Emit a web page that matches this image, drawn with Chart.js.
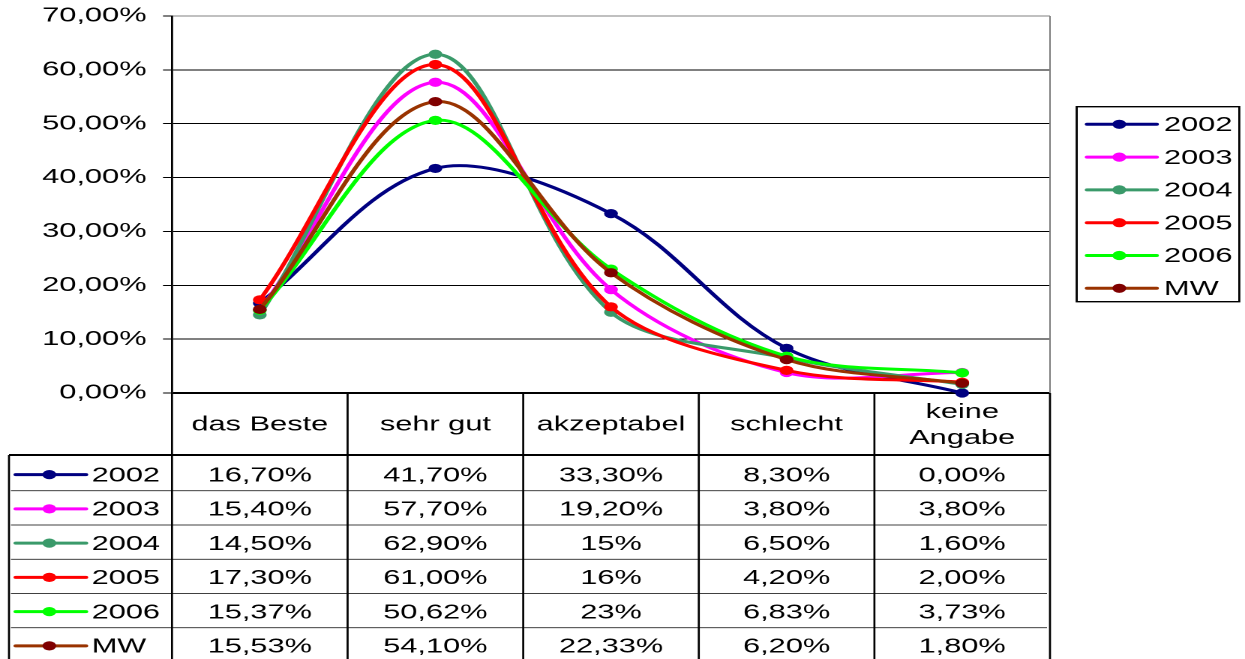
<!DOCTYPE html>
<html>
<head>
<meta charset="utf-8">
<script src="https://cdn.jsdelivr.net/npm/chart.js@4.4.1/dist/chart.umd.min.js"></script>
<style>
  html, body { margin: 0; padding: 0; background: #fff; overflow: hidden; }
  #wrap { width: 1245px; height: 659px; position: relative; overflow: hidden; }
  /* the chart is laid out on a narrower canvas and widened horizontally */
  #c { position: absolute; left: 0; top: 0; transform: scaleX(1.5); transform-origin: 0 0; }
</style>
</head>
<body>
<div id="wrap"><canvas id="c" width="830" height="659"></canvas></div>
<script>
// ---- data ----
const categories = ['das Beste', 'sehr gut', 'akzeptabel', 'schlecht', ['keine', 'Angabe']];
const seriesNames = ['2002', '2003', '2004', '2005', '2006', 'MW'];

const values2002 = [16.70, 41.70, 33.30, 8.30, 0.00];
const values2003 = [15.40, 57.70, 19.20, 3.80, 3.80];
const values2004 = [14.50, 62.90, 15.00, 6.50, 1.60];
const values2005 = [17.30, 61.00, 16.00, 4.20, 2.00];
const values2006 = [15.37, 50.62, 23.00, 6.83, 3.73];
const valuesMW   = [15.53, 54.10, 22.33, 6.20, 1.80];

// decimals shown in the table cells
const decimals2002 = [2, 2, 2, 2, 2];
const decimals2003 = [2, 2, 2, 2, 2];
const decimals2004 = [2, 2, 0, 2, 2];
const decimals2005 = [2, 2, 0, 2, 2];
const decimals2006 = [2, 2, 0, 2, 2];
const decimalsMW   = [2, 2, 2, 2, 2];

const yMin = 0, yMax = 70, yStep = 10;

const seriesValues = [values2002, values2003, values2004, values2005, values2006, valuesMW];
const seriesDecimals = [decimals2002, decimals2003, decimals2004, decimals2005, decimals2006, decimalsMW];
const lineColors   = ['#000080', '#FF00FF', '#3A9A6A', '#FF0000', '#00FF00', '#993300'];
const markerColors = ['#000080', '#FF00FF', '#3A9A6A', '#FF0000', '#00FF00', '#800000'];

const FONT_FAMILY = '"Liberation Sans", Arial, sans-serif';
const FONT_SIZE = 20.5;
const FONT = FONT_SIZE + 'px ' + FONT_FAMILY;

function pct(v, d) {
  return v.toFixed(d).replace('.', ',') + '%';
}

function legendKey(ctx, i, x0, x1, xm, y) {
  ctx.save();
  ctx.strokeStyle = lineColors[i];
  ctx.lineWidth = 3;
  ctx.lineCap = 'round';
  ctx.beginPath();
  ctx.moveTo(x0, y);
  ctx.lineTo(x1, y);
  ctx.stroke();
  ctx.fillStyle = markerColors[i];
  ctx.beginPath();
  ctx.arc(xm, y, 4.6, 0, Math.PI * 2);
  ctx.fill();
  ctx.restore();
}

// plot frame on the right side
const frameEdge = {
  id: 'frameEdge',
  beforeDatasetsDraw(chart) {
    const { ctx, chartArea: a } = chart;
    ctx.save();
    ctx.strokeStyle = '#808080';
    ctx.lineWidth = 1;
    ctx.beginPath();
    ctx.moveTo(a.right, a.top);
    ctx.lineTo(a.right, a.bottom);
    ctx.stroke();
    ctx.restore();
  }
};

// data table under the plot, aligned to the category scale
const dataTable = {
  id: 'dataTable',
  afterDraw(chart) {
    const { ctx, chartArea: a, scales: { x } } = chart;
    const n = categories.length;
    const step = (a.right - a.left) / n;
    const edges = [];
    for (let i = 0; i < n; i++) edges.push(x.getPixelForValue(i) - step / 2);
    edges.push(a.right);

    const headTop = a.bottom;
    const headBottom = a.bottom + 62;
    const rowH = 34.25;
    const tableLeft = 6;
    const bottom = chart.height + 2;

    ctx.save();
    ctx.strokeStyle = '#000';

    // thin row separators
    ctx.lineWidth = 0.75;
    for (let r = 1; r < seriesNames.length; r++) {
      const y = headBottom + r * rowH + 1.5;
      ctx.beginPath();
      ctx.moveTo(tableLeft + 1.3, y);
      ctx.lineTo(a.right - 2, y);
      ctx.stroke();
    }

    // column lines and borders
    ctx.lineWidth = 1.35;
    edges.forEach(ex => {
      ctx.beginPath();
      ctx.moveTo(ex, headTop);
      ctx.lineTo(ex, bottom);
      ctx.stroke();
    });
    ctx.lineWidth = 2;
    ctx.beginPath();
    ctx.moveTo(tableLeft, headBottom);
    ctx.lineTo(a.right, headBottom);
    ctx.stroke();
    ctx.lineWidth = 1.35;
    ctx.beginPath();
    ctx.moveTo(tableLeft, headBottom);
    ctx.lineTo(tableLeft, bottom);
    ctx.stroke();

    // header labels
    ctx.fillStyle = '#000';
    ctx.font = FONT;
    ctx.textAlign = 'center';
    ctx.textBaseline = 'middle';
    categories.forEach((c, i) => {
      const cx = x.getPixelForValue(i);
      if (Array.isArray(c)) {
        ctx.fillText(c[0], cx, headTop + 19.5);
        ctx.fillText(c[1], cx, headTop + 45.5);
      } else {
        ctx.fillText(c, cx, headTop + 32);
      }
    });

    // rows
    seriesNames.forEach((name, r) => {
      const cy = headBottom + r * rowH + 1.5 + rowH / 2 + 1;
      legendKey(ctx, r, 10.5, 57.3, 32.9, cy);
      ctx.fillStyle = '#000';
      ctx.textAlign = 'left';
      ctx.fillText(name, 61.1, cy + 1);
      ctx.textAlign = 'center';
      seriesValues[r].forEach((v, i) => {
        ctx.fillText(pct(v, seriesDecimals[r][i]), x.getPixelForValue(i), cy + 1);
      });
    });

    // legend box at the right
    const lx = 717.8, ly = 106.7, lw = 108.4, lh = 195;
    ctx.lineWidth = 1.4;
    ctx.strokeRect(lx, ly, lw, lh);
    seriesNames.forEach((name, r) => {
      const y = 124.3 + r * 32.8;
      legendKey(ctx, r, 724.7, 771.1, 746.2, y);
      ctx.fillStyle = '#000';
      ctx.textAlign = 'left';
      ctx.fillText(name, 776, y + 1);
    });
    ctx.restore();
  }
};

const datasets = seriesNames.map((name, i) => ({
  label: name,
  data: seriesValues[i],
  borderColor: lineColors[i],
  backgroundColor: markerColors[i],
  pointBackgroundColor: markerColors[i],
  pointBorderColor: markerColors[i],
  pointBorderWidth: 0,
  pointRadius: 4.6,
  borderWidth: 3,
  tension: 0.34,
  fill: false,
  clip: false,
  order: seriesNames.length - i
}));

new Chart(document.getElementById('c'), {
  type: 'line',
  data: { labels: categories, datasets },
  options: {
    responsive: false,
    devicePixelRatio: 2,
    animation: false,
    events: [],
    layout: { padding: { left: 0, top: 16, right: 130, bottom: 266 } },
    plugins: { legend: { display: false }, tooltip: { enabled: false } },
    scales: {
      x: { type: 'category', offset: true, display: false },
      y: {
        min: yMin,
        max: yMax,
        afterFit(scale) {
          scale.width = 114.67;
          scale.paddingTop = 0;
          scale.paddingBottom = 0;
        },
        ticks: {
          stepSize: yStep,
          color: '#000',
          padding: 11,
          font: { family: FONT_FAMILY, size: FONT_SIZE },
          callback: v => pct(v, 2)
        },
        grid: {
          color: c => (c.tick && c.tick.value === yMax ? '#808080' : '#000'),
          lineWidth: c => (c.tick && c.tick.value === yMin ? 2 : 1),
          tickColor: '#000',
          tickLength: 6,
          tickWidth: 1
        },
        border: { display: true, color: '#000', width: 1.4 }
      }
    }
  },
  plugins: [frameEdge, dataTable]
});
</script>
</body>
</html>
